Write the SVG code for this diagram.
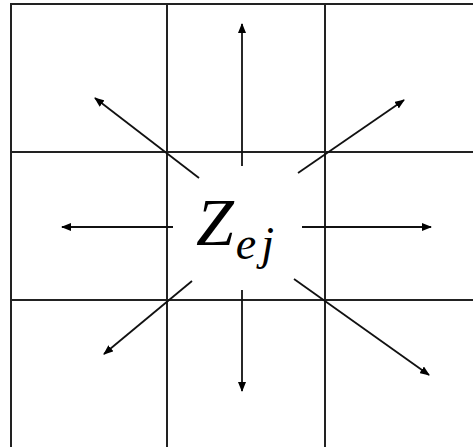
<svg xmlns="http://www.w3.org/2000/svg" width="473" height="447" viewBox="0 0 473 447">
<defs>
<marker id="ah" viewBox="0 0 10 8" refX="9" refY="4" markerWidth="10" markerHeight="8" markerUnits="userSpaceOnUse" orient="auto">
<path d="M0,0 L10,4 L0,8 Z" fill="#000"/>
</marker>
<style>
.g{stroke:#222;stroke-width:2;fill:none}
.a{stroke:#111;stroke-width:1.8;fill:none;marker-end:url(#ah)}
.t{font-family:"Liberation Serif",serif;font-style:italic;fill:#000}
</style>
</defs>
<rect width="473" height="447" fill="#fff"/>
<g id="grid">
<path class="g" d="M11,447 V4 H473 M167,4 V447 M325,4 V447 M11,152 H473 M11,300 H473"/>
</g>
<g id="connectors">
<line class="a" x1="242" y1="166" x2="242" y2="24"/>
<line class="a" x1="199" y1="178" x2="95" y2="98"/>
<line class="a" x1="298" y1="173" x2="404" y2="100"/>
<line class="a" x1="173" y1="227" x2="62" y2="227"/>
<line class="a" x1="302" y1="227" x2="431" y2="227"/>
<line class="a" x1="192" y1="281" x2="104" y2="354"/>
<line class="a" x1="242" y1="290" x2="242" y2="391"/>
<line class="a" x1="294" y1="279" x2="429" y2="375"/>
</g>
<g id="label">
<text class="t" x="196" y="245" font-size="68">Z<tspan font-size="46" dy="14" dx="2" letter-spacing="5">ej</tspan></text>
</g>
</svg>
